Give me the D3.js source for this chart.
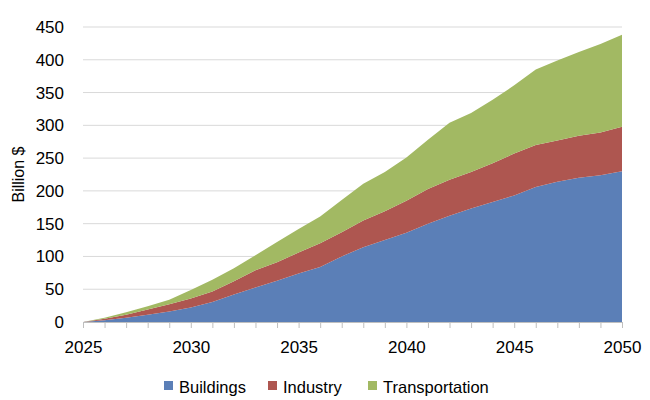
<!DOCTYPE html>
<html>
<head>
<meta charset="utf-8">
<script src="https://cdn.jsdelivr.net/npm/d3@7/dist/d3.min.js"></script>
<style>
  html, body { margin: 0; padding: 0; background: #fff; }
  svg text { font-family: "Liberation Sans", Arial, sans-serif; fill: #000; }
</style>
</head>
<body>
<svg id="chart" width="650" height="400"></svg>
<script>
const years = [2025,2026,2027,2028,2029,2030,2031,2032,2033,2034,2035,2036,2037,2038,2039,2040,2041,2042,2043,2044,2045,2046,2047,2048,2049,2050];
const buildings = [0,2.5,6.5,11,16,22,30.5,42,52.5,63,74,84,100,114,125,136,150,162,173,183,193,206,214,220,224,230];
const industry = [0,2.5,4.5,8,11,14,16,20,26.5,28,32,36,37,41,44,49,53,55,56,59,64,64,63,64,65,68];
const transportation = [0,1.5,4,5,7,13,18,20,23,31,36,41,49,56,60,66,75,87,90,97,104,115,122,128,135,140];
const seriesNames = ["Buildings","Industry","Transportation"];
const seriesColors = ["#5B7FB7","#AE5650","#A2B963"];
const yTicks = [0,50,100,150,200,250,300,350,400,450];
const xTickLabels = [2025,2030,2035,2040,2045,2050];

const svg = d3.select("#chart");
const m = {left: 83, right: 28, top: 27, bottom: 78};
const W = 650, H = 400;

const x = d3.scaleLinear().domain([2025, 2050]).range([m.left, W - m.right]);
const y = d3.scaleLinear().domain([0, 450]).range([H - m.bottom, m.top]);

const table = years.map((yr, i) => ({year: yr, Buildings: buildings[i], Industry: industry[i], Transportation: transportation[i]}));
const stacked = d3.stack().keys(seriesNames)(table);

// gridlines
svg.append("g")
  .selectAll("line")
  .data(yTicks.filter(d => d > 0))
  .join("line")
  .attr("x1", x(2025)).attr("x2", x(2050))
  .attr("y1", d => y(d)).attr("y2", d => y(d))
  .attr("stroke", "#D9D9D9").attr("stroke-width", 1);

// areas
const area = d3.area()
  .x(d => x(d.data.year))
  .y0(d => y(d[0]))
  .y1(d => y(d[1]));

svg.append("g")
  .selectAll("path")
  .data(stacked)
  .join("path")
  .attr("d", area)
  .attr("fill", (d, i) => seriesColors[i]);

// x axis
const xAxis = d3.axisBottom(x)
  .tickValues(years)
  .tickSize(6)
  .tickFormat(d => xTickLabels.includes(d) ? String(d) : "");
const gx = svg.append("g")
  .attr("transform", `translate(0,${y(0)})`)
  .call(xAxis);
gx.select(".domain").attr("stroke", "#BFBFBF");
gx.selectAll(".tick line").attr("stroke", "#BFBFBF");
gx.selectAll(".tick text")
  .attr("font-size", "17px")
  .attr("font-family", "Liberation Sans, Arial, sans-serif")
  .attr("fill", "#000")
  .attr("dy", "0")
  .attr("y", 31);

// y axis
const yAxis = d3.axisLeft(y).tickValues(yTicks).tickSize(0).tickPadding(19);
const gy = svg.append("g")
  .attr("transform", `translate(${m.left},0)`)
  .call(yAxis);
gy.select(".domain").remove();
gy.selectAll(".tick text")
  .attr("font-size", "17px")
  .attr("font-family", "Liberation Sans, Arial, sans-serif")
  .attr("fill", "#000");

// y label
svg.append("text")
  .attr("transform", `translate(24,${(y(0) + y(450)) / 2}) rotate(-90)`)
  .attr("text-anchor", "middle")
  .attr("font-size", "16px")
  .text("Billion $");

// legend
const legendX = [164, 268, 368];
const lg = svg.append("g");
seriesNames.forEach((name, i) => {
  lg.append("rect")
    .attr("x", legendX[i]).attr("y", 381)
    .attr("width", 9).attr("height", 9)
    .attr("fill", seriesColors[i]);
  lg.append("text")
    .attr("x", legendX[i] + 15).attr("y", 392.5)
    .attr("font-size", "16.5px")
    .text(name);
});
</script>
</body>
</html>
